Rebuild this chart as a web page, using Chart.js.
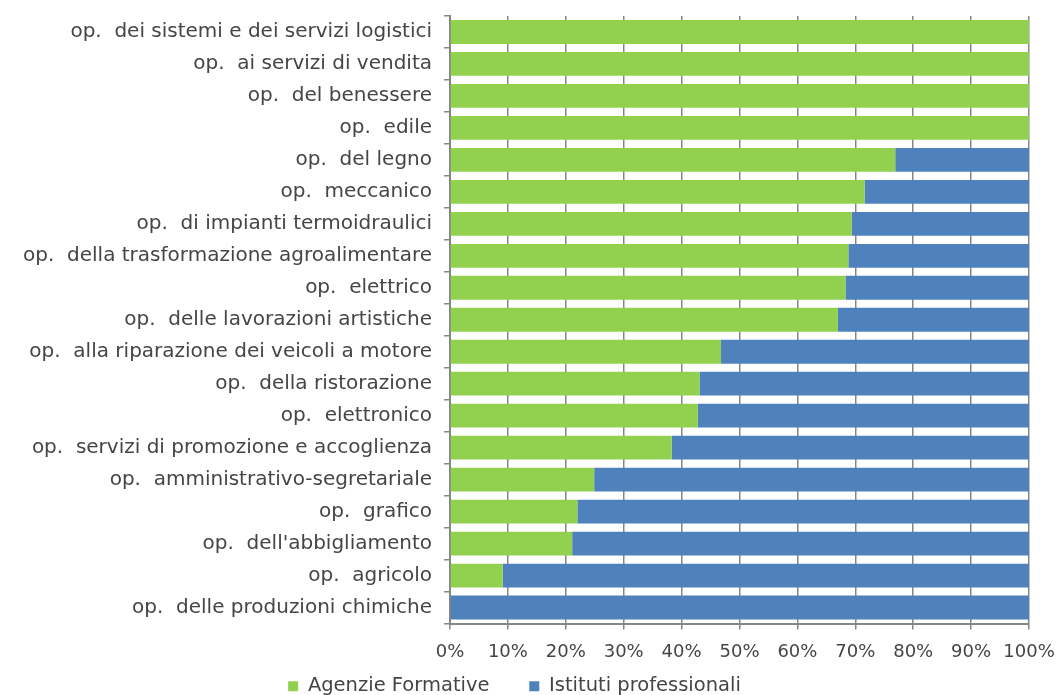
<!DOCTYPE html>
<html>
<head>
<meta charset="utf-8">
<script src="https://cdn.jsdelivr.net/npm/chart.js@4.4.1/dist/chart.umd.min.js"></script>
<style>
  html, body { margin: 0; padding: 0; background: #fff; }
  #wrap { width: 1058px; height: 695px; }
</style>
</head>
<body>
<div id="wrap"><canvas id="myChart" width="1058" height="695"></canvas></div>
<script>
// categories, top to bottom as in the picture
const categorie = [
    "op.  dei sistemi e dei servizi logistici",
    "op.  ai servizi di vendita",
    "op.  del benessere",
    "op.  edile",
    "op.  del legno",
    "op.  meccanico",
    "op.  di impianti termoidraulici",
    "op.  della trasformazione agroalimentare",
    "op.  elettrico",
    "op.  delle lavorazioni artistiche",
    "op.  alla riparazione dei veicoli a motore",
    "op.  della ristorazione",
    "op.  elettronico",
    "op.  servizi di promozione e accoglienza",
    "op.  amministrativo-segretariale",
    "op.  grafico",
    "op.  dell'abbigliamento",
    "op.  agricolo",
    "op.  delle produzioni chimiche"
];

// percentuali
const agenzieFormative = [100, 100, 100, 100, 76.9, 71.6, 69.4, 68.8, 68.3, 67.0, 46.8, 43.1, 42.8, 38.3, 24.9, 22.0, 21.1, 9.1, 0];
const istitutiProfessionali = [0, 0, 0, 0, 23.1, 28.4, 30.6, 31.2, 31.7, 33.0, 53.2, 56.9, 57.2, 61.7, 75.1, 78.0, 78.9, 90.9, 100];

const tickPercent = [0, 10, 20, 30, 40, 50, 60, 70, 80, 90, 100];

const fontFamily = "'DejaVu Sans', sans-serif";
const textColor = "#454545";
const gridColor = "#868686";

const data = {
    labels: categorie,
    datasets: [{
        label: 'Agenzie Formative',
        data: agenzieFormative,
        backgroundColor: '#92D050'
    }, {
        label: 'Istituti professionali',
        data: istitutiProfessionali,
        backgroundColor: '#4F81BD'
    }]
};

const config = {
    type: 'bar',
    data: data,
    options: {
        indexAxis: 'y',
        responsive: false,
        animation: false,
        devicePixelRatio: 1,
        categoryPercentage: 1,
        barPercentage: 0.745,
        layout: { padding: { top: 16, right: 29, left: 0, bottom: -11 } },
        scales: {
            x: {
                stacked: true,
                min: 0,
                max: 100,
                afterBuildTicks: (scale) => {
                    scale.ticks = tickPercent.map(v => ({ value: v }));
                },
                afterFit: (scale) => {
                    scale.height = 38;
                    scale.paddingLeft = 0;
                    scale.paddingRight = 0;
                },
                ticks: {
                    callback: (v) => v + '%',
                    color: textColor,
                    font: { family: fontFamily, size: 18 },
                    padding: 12,
                    maxRotation: 0
                },
                grid: { color: gridColor, lineWidth: 1.5, tickLength: 6 },
                border: { color: gridColor, width: 2 }
            },
            y: {
                stacked: true,
                afterFit: (scale) => {
                    scale.width = 450;
                    scale.paddingTop = 0;
                    scale.paddingBottom = 0;
                },
                ticks: {
                    color: textColor,
                    font: { family: fontFamily, size: 20 },
                    padding: 12,
                    autoSkip: false
                },
                grid: { drawOnChartArea: false, color: gridColor, lineWidth: 1.5, tickLength: 6, offset: true },
                border: { color: gridColor, width: 2 }
            }
        },
        plugins: {
            legend: {
                position: 'bottom',
                labels: {
                    boxWidth: 10,
                    boxHeight: 10,
                    padding: 15,
                    color: textColor,
                    font: { family: fontFamily, size: 19.5 },
                    // a little extra room after the first item, like the original legend
                    generateLabels: (chart) => {
                        const items = Chart.defaults.plugins.legend.labels.generateLabels(chart);
                        items[0].text = items[0].text + '    ';
                        return items;
                    }
                }
            },
            tooltip: { enabled: false }
        }
    }
};

new Chart(document.getElementById('myChart'), config);
</script>
</body>
</html>
